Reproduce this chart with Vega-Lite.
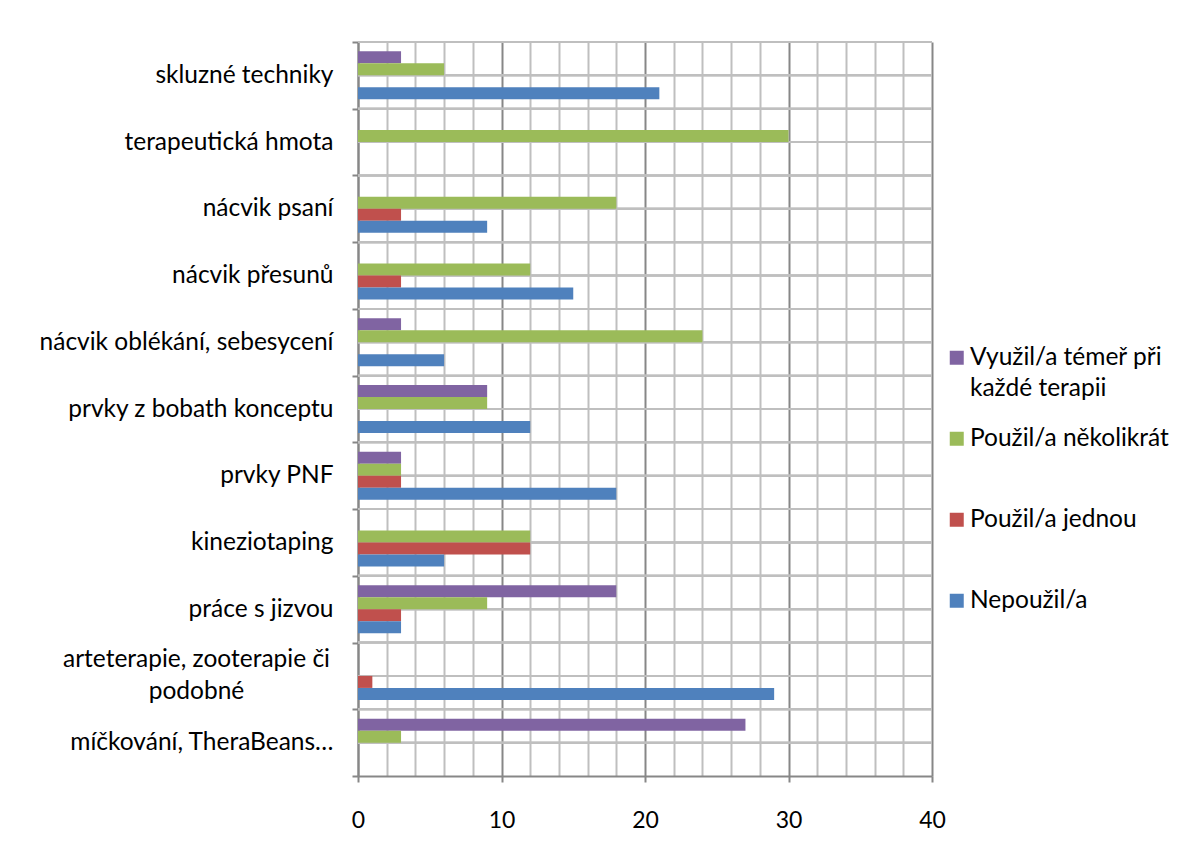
{
  "$schema": "https://vega.github.io/schema/vega-lite/v6.json",
  "width": 574,
  "height": 734,
  "autosize": {"type": "none"},
  "padding": {"left": 358, "top": 42, "right": 260, "bottom": 67},
  "background": "#ffffff",
  "config": {
    "font": "Lato",
    "view": {"stroke": null},
    "axisX": {
      "values": [0, 2, 4, 6, 8, 10, 12, 14, 16, 18, 20, 22, 24, 26, 28, 30, 32, 34, 36, 38, 40],
      "grid": true,
      "gridColor": {"condition": {"test": "datum.value % 10 === 0", "value": "#878787"}, "value": "#BFBFBF"},
      "gridWidth": 2,
      "domainColor": "#878787",
      "domainWidth": 2,
      "tickColor": {"condition": {"test": "datum.value % 10 === 0", "value": "#878787"}, "value": "transparent"},
      "tickWidth": 2,
      "tickSize": 6,
      "labelExpr": "datum.value % 10 === 0 ? datum.label : ''",
      "labelFlush": false,
      "labelOverlap": false,
      "labelFontSize": 23,
      "labelColor": "#000000",
      "labelPadding": 27,
      "title": null
    }
  },
  "datasets": {
    "rows": [
      {"category": "skluzné techniky", "series": "Využil/a témeř při každé terapii", "count": 3},
      {"category": "skluzné techniky", "series": "Použil/a několikrát", "count": 6},
      {"category": "skluzné techniky", "series": "Použil/a jednou", "count": 0},
      {"category": "skluzné techniky", "series": "Nepoužil/a", "count": 21},
      {"category": "terapeutická hmota", "series": "Využil/a témeř při každé terapii", "count": 0},
      {"category": "terapeutická hmota", "series": "Použil/a několikrát", "count": 30},
      {"category": "terapeutická hmota", "series": "Použil/a jednou", "count": 0},
      {"category": "terapeutická hmota", "series": "Nepoužil/a", "count": 0},
      {"category": "nácvik psaní", "series": "Využil/a témeř při každé terapii", "count": 0},
      {"category": "nácvik psaní", "series": "Použil/a několikrát", "count": 18},
      {"category": "nácvik psaní", "series": "Použil/a jednou", "count": 3},
      {"category": "nácvik psaní", "series": "Nepoužil/a", "count": 9},
      {"category": "nácvik přesunů", "series": "Využil/a témeř při každé terapii", "count": 0},
      {"category": "nácvik přesunů", "series": "Použil/a několikrát", "count": 12},
      {"category": "nácvik přesunů", "series": "Použil/a jednou", "count": 3},
      {"category": "nácvik přesunů", "series": "Nepoužil/a", "count": 15},
      {"category": "nácvik oblékání, sebesycení", "series": "Využil/a témeř při každé terapii", "count": 3},
      {"category": "nácvik oblékání, sebesycení", "series": "Použil/a několikrát", "count": 24},
      {"category": "nácvik oblékání, sebesycení", "series": "Použil/a jednou", "count": 0},
      {"category": "nácvik oblékání, sebesycení", "series": "Nepoužil/a", "count": 6},
      {"category": "prvky z bobath konceptu", "series": "Využil/a témeř při každé terapii", "count": 9},
      {"category": "prvky z bobath konceptu", "series": "Použil/a několikrát", "count": 9},
      {"category": "prvky z bobath konceptu", "series": "Použil/a jednou", "count": 0},
      {"category": "prvky z bobath konceptu", "series": "Nepoužil/a", "count": 12},
      {"category": "prvky PNF", "series": "Využil/a témeř při každé terapii", "count": 3},
      {"category": "prvky PNF", "series": "Použil/a několikrát", "count": 3},
      {"category": "prvky PNF", "series": "Použil/a jednou", "count": 3},
      {"category": "prvky PNF", "series": "Nepoužil/a", "count": 18},
      {"category": "kineziotaping", "series": "Využil/a témeř při každé terapii", "count": 0},
      {"category": "kineziotaping", "series": "Použil/a několikrát", "count": 12},
      {"category": "kineziotaping", "series": "Použil/a jednou", "count": 12},
      {"category": "kineziotaping", "series": "Nepoužil/a", "count": 6},
      {"category": "práce s jizvou", "series": "Využil/a témeř při každé terapii", "count": 18},
      {"category": "práce s jizvou", "series": "Použil/a několikrát", "count": 9},
      {"category": "práce s jizvou", "series": "Použil/a jednou", "count": 3},
      {"category": "práce s jizvou", "series": "Nepoužil/a", "count": 3},
      {"category": "arteterapie, zooterapie či podobné", "series": "Využil/a témeř při každé terapii", "count": 0},
      {"category": "arteterapie, zooterapie či podobné", "series": "Použil/a několikrát", "count": 0},
      {"category": "arteterapie, zooterapie či podobné", "series": "Použil/a jednou", "count": 1},
      {"category": "arteterapie, zooterapie či podobné", "series": "Nepoužil/a", "count": 29},
      {"category": "míčkování, TheraBeans…", "series": "Využil/a témeř při každé terapii", "count": 27},
      {"category": "míčkování, TheraBeans…", "series": "Použil/a několikrát", "count": 3},
      {"category": "míčkování, TheraBeans…", "series": "Použil/a jednou", "count": 0},
      {"category": "míčkování, TheraBeans…", "series": "Nepoužil/a", "count": 0}
    ]
  },
  "data": {"name": "rows"},
  "encoding": {
    "x": {
      "field": "count",
      "type": "quantitative",
      "scale": {"domain": [0, 40], "nice": false},
      "title": null
    }
  },
  "layer": [
    {
      "mark": {"type": "rule", "stroke": "#BFBFBF", "strokeWidth": 2},
      "encoding": {
        "y": {"field": "category", "type": "nominal", "sort": null, "bandPosition": 0},
        "x": {"datum": 0, "type": "quantitative"},
        "x2": {"datum": 40}
      }
    },
    {
      "mark": {"type": "rule", "stroke": "#BFBFBF", "strokeWidth": 2},
      "encoding": {
        "y": {"field": "category", "type": "nominal", "sort": null, "bandPosition": 0.5},
        "x": {"datum": 0, "type": "quantitative"},
        "x2": {"datum": 40}
      }
    },
    {
      "mark": {"type": "bar"},
      "encoding": {
        "y": {
          "field": "category",
          "type": "nominal",
          "sort": null,
          "scale": {"paddingInner": 0, "paddingOuter": 0},
          "axis": {
            "title": null,
            "tickBand": "extent",
            "grid": false,
            "domainColor": "#878787",
            "domainWidth": 2,
            "tickColor": "#878787",
            "tickWidth": 2,
            "tickSize": 6,
            "labelFontSize": 24.5,
            "labelColor": "#000000",
            "labelLimit": 400,
            "labelLineHeight": 32,
            "labelAlign": {"condition": {"test": "datum.value === 'arteterapie, zooterapie či podobné'", "value": "center"}, "value": "right"},
            "labelPadding": {"condition": {"test": "datum.value === 'arteterapie, zooterapie či podobné'", "value": 156}, "value": 19},
            "labelOffset": {"condition": {"test": "datum.value === 'arteterapie, zooterapie či podobné'", "value": -16}, "value": 0},
            "labelExpr": "datum.value === 'arteterapie, zooterapie či podobné' ? ['arteterapie, zooterapie či', 'podobné'] : datum.label"
          }
        },
        "yOffset": {
          "field": "series",
          "sort": ["Využil/a témeř při každé terapii", "Použil/a několikrát", "Použil/a jednou", "Nepoužil/a"],
          "scale": {"paddingInner": 0, "paddingOuter": 0.78}
        },
        "color": {
          "field": "series",
          "type": "nominal",
          "scale": {
            "domain": ["Využil/a témeř při každé terapii", "Použil/a několikrát", "Použil/a jednou", "Nepoužil/a"],
            "range": ["#8064A2", "#9BBB59", "#C0504D", "#4F81BD"]
          },
          "legend": {
            "title": null,
            "orient": "none",
            "legendX": 586.5,
            "legendY": 303.5,
            "padding": 0,
            "symbolType": "square",
            "symbolSize": 196,
            "symbolStrokeWidth": 0,
            "labelFontSize": 24.5,
            "labelColor": "#000000",
            "labelLimit": 300,
            "labelOffset": 1,
            "gridAlign": "all",
            "rowPadding": 25,
            "labelExpr": "datum.value === 'Využil/a témeř při každé terapii' ? ['Využil/a témeř při', 'každé terapii'] : datum.label",
            "encode": {
              "labels": {
                "update": {
                  "lineHeight": {"value": 31}
                }
              }
            }
          }
        }
      }
    }
  ]
}
